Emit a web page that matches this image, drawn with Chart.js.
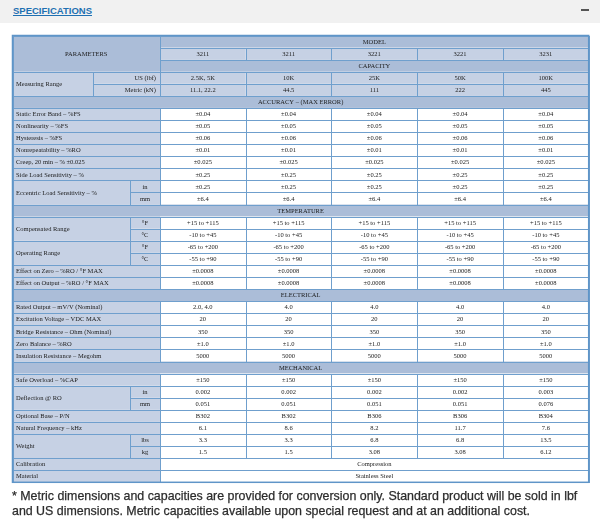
<!DOCTYPE html>
<html>
<head>
<meta charset="utf-8">
<script src="https://cdn.jsdelivr.net/npm/chart.js@4.4.1/dist/chart.umd.min.js"></script>
<style>
  html, body { margin: 0; padding: 0; background: #fff; width: 600px; height: 531px; overflow: hidden; }
  #bar   { position: absolute; left: 0; top: 0; width: 600px; height: 23px; background: #f1f1f1; }
  #title { position: absolute; left: 13px; top: 5px; font: bold 9.5px "Liberation Sans", Arial, sans-serif;
           color: #1f70b2; text-decoration: underline; }
  #minus { position: absolute; left: 581px; top: 9px; width: 8px; height: 2px; background: #555; }
  #wrap  { position: absolute; left: 0; top: 0; width: 600px; height: 531px; }
  #note  { position: absolute; left: 12px; top: 488.5px; width: 581px; color: #2c2c2c;
           font: 12.4px/15.5px "Liberation Sans", Arial, sans-serif; -webkit-text-stroke: 0.25px #2c2c2c; }
</style>
</head>
<body>
<div id="bar"></div>
<div id="title">SPECIFICATIONS</div>
<div id="minus"></div>
<div id="wrap"><canvas id="spec"></canvas></div>
<div id="note">* Metric dimensions and capacities are provided for conversion only. Standard product will be sold in lbf and US dimensions. Metric capacities available upon special request and at an additional cost.</div>

<script>
// ── Données du tableau ───────────────────────────────────────────────────────

const models    = ["3211", "3211", "3221", "3221", "3231"];
const capUS     = ["2.5K, 5K", "10K", "25K", "50K", "100K"];
const capMetric = ["11.1, 22.2", "44.5", "111", "222", "445"];

const accuracyRows = [
  ["Static Error Band – %FS",         null, ["±0.04", "±0.04", "±0.04", "±0.04", "±0.04"]],
  ["Nonlinearity – %FS",              null, ["±0.05", "±0.05", "±0.05", "±0.05", "±0.05"]],
  ["Hysteresis – %FS",                null, ["±0.06", "±0.06", "±0.06", "±0.06", "±0.06"]],
  ["Nonrepeatability – %RO",          null, ["±0.01", "±0.01", "±0.01", "±0.01", "±0.01"]],
  ["Creep, 20 min – % ±0.025",        null, ["±0.025", "±0.025", "±0.025", "±0.025", "±0.025"]],
  ["Side Load Sensitivity – %",       null, ["±0.25", "±0.25", "±0.25", "±0.25", "±0.25"]],
  ["Eccentric Load Sensitivity – %",  "in", ["±0.25", "±0.25", "±0.25", "±0.25", "±0.25"]],
  ["Eccentric Load Sensitivity – %",  "mm", ["±6.4", "±6.4", "±6.4", "±6.4", "±6.4"]],
];

const temperatureRows = [
  ["Compensated Range",               "°F", ["+15 to +115", "+15 to +115", "+15 to +115", "+15 to +115", "+15 to +115"]],
  ["Compensated Range",               "°C", ["-10 to +45", "-10 to +45", "-10 to +45", "-10 to +45", "-10 to +45"]],
  ["Operating Range",                 "°F", ["-65 to +200", "-65 to +200", "-65 to +200", "-65 to +200", "-65 to +200"]],
  ["Operating Range",                 "°C", ["-55 to +90", "-55 to +90", "-55 to +90", "-55 to +90", "-55 to +90"]],
  ["Effect on Zero – %RO / °F MAX",   null, ["±0.0008", "±0.0008", "±0.0008", "±0.0008", "±0.0008"]],
  ["Effect on Output – %RO / °F MAX", null, ["±0.0008", "±0.0008", "±0.0008", "±0.0008", "±0.0008"]],
];

const electricalRows = [
  ["Rated Output – mV/V (Nominal)",     null, ["2.0, 4.0", "4.0", "4.0", "4.0", "4.0"]],
  ["Excitation Voltage – VDC MAX",      null, ["20", "20", "20", "20", "20"]],
  ["Bridge Resistance – Ohm (Nominal)", null, ["350", "350", "350", "350", "350"]],
  ["Zero Balance – %RO",                null, ["±1.0", "±1.0", "±1.0", "±1.0", "±1.0"]],
  ["Insulation Resistance – Megohm",    null, ["5000", "5000", "5000", "5000", "5000"]],
];

const mechanicalRows = [
  ["Safe Overload – %CAP",     null,  ["±150", "±150", "±150", "±150", "±150"]],
  ["Deflection @ RO",          "in",  ["0.002", "0.002", "0.002", "0.002", "0.003"]],
  ["Deflection @ RO",          "mm",  ["0.051", "0.051", "0.051", "0.051", "0.076"]],
  ["Optional Base – P/N",      null,  ["B302", "B302", "B306", "B306", "B304"]],
  ["Natural Frequency – kHz",  null,  ["6.1", "8.6", "8.2", "11.7", "7.6"]],
  ["Weight",                   "lbs", ["3.3", "3.3", "6.8", "6.8", "13.5"]],
  ["Weight",                   "kg",  ["1.5", "1.5", "3.08", "3.08", "6.12"]],
];

const footRows = [
  ["Calibration", "Compression"],
  ["Material",    "Stainless Steel"],
];

const sections = [
  ["ACCURACY – (MAX ERROR)", accuracyRows],
  ["TEMPERATURE",            temperatureRows],
  ["ELECTRICAL",             electricalRows],
  ["MECHANICAL",             mechanicalRows],
];

// ── Mise en page (unités de colonne / de ligne) ──────────────────────────────

const LABEL_W = 1.72;   // largeur de la zone libellés
const SUB_X   = 1.37;   // séparation libellé / unité (in, mm, °F…)
const MR_X    = 0.94;   // séparation pour "Measuring Range"
const END     = LABEL_W + models.length;

const DARK  = "#abbdd8";
const LIGHT = "#c6d1e4";
const WHITE = "#ffffff";
const LINE  = "#6f9fcd";
const FONT  = "6.5px 'Liberation Serif', 'Times New Roman', serif";

const colX = i => LABEL_W + i;

function buildCells() {
  const cells = [];
  const add = (x0, x1, y0, y1, fill, text, align = "center") => {
    const x = align === "left" ? x0 : align === "right" ? x1 : (x0 + x1) / 2;
    cells.push({ x, y: (y0 + y1) / 2, x0, x1, y0, y1, fill, text, align });
  };
  const values = (vals, r, fill) => vals.forEach((v, i) => add(colX(i), colX(i + 1), r, r + 1, fill, v));

  add(0, LABEL_W, 0, 3, DARK, "PARAMETERS");
  add(LABEL_W, END, 0, 1, DARK, "MODEL");
  values(models, 1, LIGHT);
  add(LABEL_W, END, 2, 3, DARK, "CAPACITY");
  add(0, MR_X, 3, 5, LIGHT, "Measuring Range", "left");
  add(MR_X, LABEL_W, 3, 4, LIGHT, "US (lbf)", "right");
  add(MR_X, LABEL_W, 4, 5, LIGHT, "Metric (kN)", "right");
  values(capUS, 3, LIGHT);
  values(capMetric, 4, LIGHT);

  let r = 5;
  sections.forEach(([title, rows]) => {
    add(0, END, r, r + 1, DARK, title);
    r++;
    let i = 0;
    while (i < rows.length) {
      const label = rows[i][0];
      let n = 1;
      while (i + n < rows.length && rows[i + n][0] === label) n++;
      if (rows[i][1]) {
        add(0, SUB_X, r, r + n, LIGHT, label, "left");
        for (let k = 0; k < n; k++) {
          add(SUB_X, LABEL_W, r + k, r + k + 1, LIGHT, rows[i + k][1]);
          values(rows[i + k][2], r + k, WHITE);
        }
      } else {
        add(0, LABEL_W, r, r + 1, LIGHT, label, "left");
        values(rows[i][2], r, WHITE);
      }
      r += n;
      i += n;
    }
  });

  footRows.forEach(([label, val]) => {
    add(0, LABEL_W, r, r + 1, LIGHT, label, "left");
    add(LABEL_W, END, r, r + 1, WHITE, val);
    r++;
  });
  return { cells, rows: r };
}

const { cells, rows: ROWS } = buildCells();

// ── Plugin : fonds, bordures et textes des cellules ──────────────────────────

const crisp = v => Math.round(v) + 0.5;

const tablePlugin = {
  id: "specTable",
  beforeDatasetsDraw(chart) {
    const { ctx, scales: { x, y }, chartArea } = chart;
    ctx.save();
    cells.forEach(c => {
      const l = x.getPixelForValue(c.x0), r = x.getPixelForValue(c.x1);
      const t = y.getPixelForValue(c.y0), b = y.getPixelForValue(c.y1);
      ctx.fillStyle = c.fill;
      ctx.fillRect(l, t, r - l, b - t);
    });
    ctx.strokeStyle = LINE;
    ctx.lineWidth = 1;
    cells.forEach(c => {
      const l = crisp(x.getPixelForValue(c.x0)), r = crisp(x.getPixelForValue(c.x1));
      const t = crisp(y.getPixelForValue(c.y0)), b = crisp(y.getPixelForValue(c.y1));
      ctx.strokeRect(l, t, r - l, b - t);
    });
    ctx.lineWidth = 1.5;
    ctx.strokeStyle = "#5f95c8";
    ctx.strokeRect(chartArea.left, chartArea.top, chartArea.width, chartArea.height);
    ctx.restore();
  },
  afterDatasetsDraw(chart) {
    const { ctx } = chart;
    const meta = chart.getDatasetMeta(0);
    ctx.save();
    ctx.font = FONT;
    ctx.fillStyle = "#1b1b1b";
    ctx.textBaseline = "middle";
    meta.data.forEach((pt, i) => {
      const c = cells[i];
      ctx.textAlign = c.align;
      const dx = c.align === "left" ? 3.5 : c.align === "right" ? -4 : 0;
      ctx.fillText(c.text, pt.x + dx, pt.y + 0.5);
    });
    ctx.restore();
  },
};

new Chart(document.getElementById("spec"), {
  type: "scatter",
  data: { datasets: [{ data: cells, pointRadius: 0, pointHoverRadius: 0 }] },
  options: {
    responsive: true,
    maintainAspectRatio: false,
    animation: false,
    events: [],
    layout: { padding: { left: 12.5, right: 11.3, top: 35.5, bottom: 48.7 } },
    plugins: { legend: { display: false }, tooltip: { enabled: false } },
    scales: {
      x: { type: "linear", display: false, min: 0, max: END },
      y: { type: "linear", display: false, min: 0, max: ROWS, reverse: true },
    },
  },
  plugins: [tablePlugin],
});
</script>
</body>
</html>
